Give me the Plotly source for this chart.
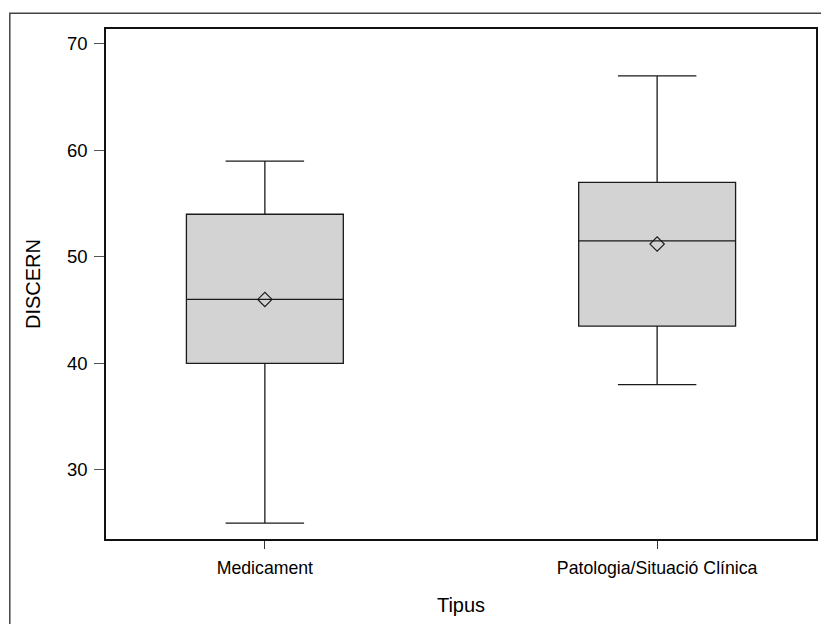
import plotly.graph_objects as go

# Summary statistics of DISCERN scores by type
categories = ["Medicament", "Patologia/Situació Clínica"]
minimum = [25, 38]
q1 = [40, 43.5]
median = [46, 51.5]
q3 = [54, 57]
maximum = [59, 67]
mean = [46, 51.2]
y_ticks = [30, 40, 50, 60, 70]

FONT = "Liberation Sans, Arial, sans-serif"

fig = go.Figure()

fig.add_trace(go.Box(
    x=categories,
    q1=q1,
    median=median,
    q3=q3,
    lowerfence=minimum,
    upperfence=maximum,
    fillcolor="#d3d3d3",
    line=dict(color="#1a1a1a", width=1.3),
    width=0.4,
    whiskerwidth=0.5,
    boxpoints=False,
    showlegend=False,
    hoverinfo="skip",
))

fig.add_trace(go.Scatter(
    x=categories,
    y=mean,
    mode="markers",
    marker=dict(symbol="diamond-open", size=11, color="#1a1a1a",
                line=dict(width=1.2, color="#1a1a1a")),
    showlegend=False,
    hoverinfo="skip",
))

# Outer frame around the whole graphic
fig.add_shape(
    type="rect", xref="paper", yref="paper",
    x0=-0.1355, x1=1.02, y0=-0.2, y1=1.031,
    line=dict(color="#444444", width=1.5),
    fillcolor="rgba(0,0,0,0)",
    layer="below",
)

fig.update_layout(
    width=821,
    height=624,
    margin=dict(l=106, r=3, t=29, b=85),
    paper_bgcolor="white",
    plot_bgcolor="white",
    font=dict(family=FONT, size=17, color="black"),
    xaxis=dict(
        type="category",
        range=[-0.405, 1.405],
        showline=True, mirror=True, linecolor="#111111", linewidth=1.5,
        ticks="outside", ticklen=8, tickcolor="#333333",
        ticklabelstandoff=4,
        showgrid=False, zeroline=False,
        tickfont=dict(family=FONT, size=17.7, color="black"),
        title=dict(text="Tipus", font=dict(family=FONT, size=20, color="black"),
                   standoff=21),
    ),
    yaxis=dict(
        range=[23.5, 71.4],
        tickvals=y_ticks,
        showline=True, mirror=True, linecolor="#111111", linewidth=1.5,
        ticks="outside", ticklen=10, tickcolor="#555555",
        ticklabelstandoff=3,
        showgrid=False, zeroline=False,
        tickfont=dict(family=FONT, size=18.5, color="black"),
        title=dict(text="DISCERN", font=dict(family=FONT, size=20, color="black"),
                   standoff=21),
    ),
)

fig.write_html("out.html")
